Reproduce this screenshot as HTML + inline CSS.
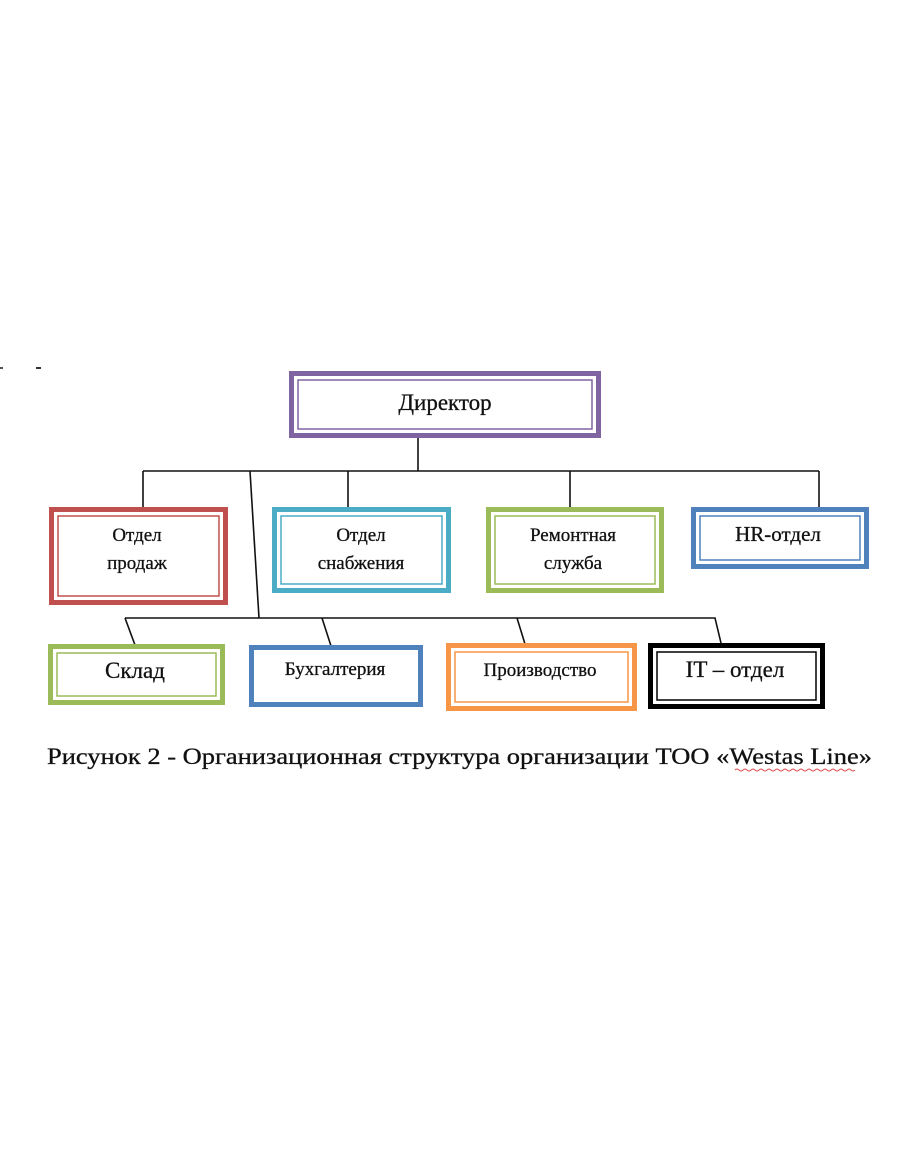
<!DOCTYPE html>
<html><head><meta charset="utf-8"><style>
html,body{margin:0;padding:0;background:#fff;}
svg{display:block;}
text{font-family:"Liberation Serif","DejaVu Serif",serif;fill:#111;stroke:#111;stroke-width:0.3;}
</style></head><body>
<svg width="910" height="1155" viewBox="0 0 910 1155" xmlns="http://www.w3.org/2000/svg">
<rect x="0" y="367" width="3" height="2" fill="#555"/>
<rect x="36" y="367" width="5" height="2" fill="#333"/>
<g stroke="#111" stroke-width="1.6" fill="none">
<line x1="418" y1="438" x2="418" y2="471"/>
<line x1="143" y1="471" x2="819" y2="471"/>
<line x1="143" y1="471" x2="143" y2="508"/>
<line x1="348" y1="471" x2="348" y2="508"/>
<line x1="570" y1="471" x2="570" y2="508"/>
<line x1="819" y1="471" x2="819" y2="508"/>
<line x1="250" y1="471" x2="259" y2="618"/>
<line x1="125" y1="618" x2="712" y2="618"/>
<polyline points="125,618 135,645"/>
<polyline points="322,618 331,646"/>
<polyline points="517,618 525,644"/>
<polyline points="712,618 715,618 721,643"/>
</g>
<g fill="#fff">
<rect x="291.5" y="373.5" width="307" height="62" stroke="#8064a2" stroke-width="5"/>
<rect x="298" y="380" width="294" height="49" fill="none" stroke="#8064a2" stroke-width="1.5"/>
<rect x="51.5" y="509.5" width="174" height="93" stroke="#c0504d" stroke-width="5"/>
<rect x="58" y="516" width="161" height="80" fill="none" stroke="#c0504d" stroke-width="1.5"/>
<rect x="274.5" y="509.5" width="174" height="81" stroke="#4bacc6" stroke-width="5"/>
<rect x="281" y="516" width="161" height="68" fill="none" stroke="#4bacc6" stroke-width="1.5"/>
<rect x="488.5" y="509.5" width="173" height="81" stroke="#9bbb59" stroke-width="5"/>
<rect x="495" y="516" width="160" height="68" fill="none" stroke="#9bbb59" stroke-width="1.5"/>
<rect x="693.5" y="509.5" width="173" height="57" stroke="#4f81bd" stroke-width="5"/>
<rect x="700" y="516" width="160" height="44" fill="none" stroke="#4f81bd" stroke-width="1.5"/>
<rect x="50.5" y="646.5" width="172" height="56" stroke="#9bbb59" stroke-width="5"/>
<rect x="57" y="653" width="159" height="43" fill="none" stroke="#9bbb59" stroke-width="1.5"/>
<rect x="251.5" y="647.5" width="169" height="57" stroke="#4f81bd" stroke-width="5"/>
<rect x="448.5" y="645.5" width="186" height="63" stroke="#f79646" stroke-width="5"/>
<rect x="455" y="652" width="173" height="50" fill="none" stroke="#f79646" stroke-width="1.5"/>
<rect x="650.5" y="645.5" width="172" height="61" stroke="#000" stroke-width="5"/>
<rect x="657" y="652" width="159" height="48" fill="none" stroke="#000" stroke-width="1.5"/>
</g>
<g text-anchor="middle">
<text x="445" y="410" font-size="23">Директор</text>
<text x="137" y="541" font-size="19">Отдел</text>
<text x="137" y="569" font-size="19">продаж</text>
<text x="361" y="541" font-size="19">Отдел</text>
<text x="361" y="569" font-size="19">снабжения</text>
<text x="573" y="541" font-size="19">Ремонтная</text>
<text x="573" y="569" font-size="19">служба</text>
<text x="778" y="541" font-size="21">HR-отдел</text>
<text x="135" y="678" font-size="23">Склад</text>
<text x="335" y="675" font-size="19">Бухгалтерия</text>
<text x="540" y="676" font-size="19">Производство</text>
<text x="735" y="677" font-size="23">IT – отдел</text>
</g>
<text x="47" y="764" font-size="23" textLength="825" lengthAdjust="spacingAndGlyphs">Рисунок 2 - Организационная структура организации ТОО «Westas Line»</text>
<path d="M735 770 q2 -2 4 0 t4 0 t4 0 t4 0 t4 0 t4 0 t4 0 t4 0 t4 0 t4 0 t4 0 t4 0 t4 0 t4 0 t4 0 t4 0 t4 0 t4 0 t4 0 t4 0 t4 0 t4 0 t4 0 t4 0 t4 0 t4 0 t4 0 t4 0 t4 0 t4 0" stroke="#e05050" stroke-width="1" fill="none"/>
</svg>
</body></html>
